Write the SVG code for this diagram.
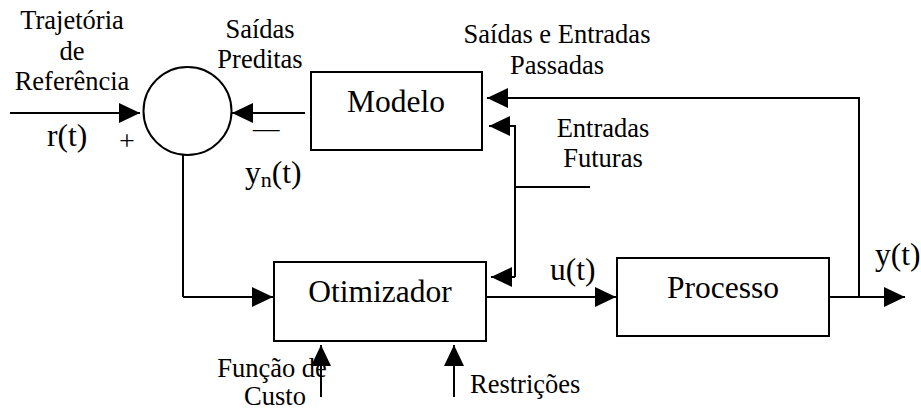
<svg xmlns="http://www.w3.org/2000/svg" width="921" height="410" viewBox="0 0 921 410">
<defs>
<style>
.box{fill:#fff;stroke:#000;stroke-width:2}
.ln{fill:none;stroke:#000;stroke-width:2}
.arr{fill:none;stroke:#000;stroke-width:2;marker-end:url(#ah)}
text{font-family:'Liberation Serif','Times New Roman',Times,Tinos,'DejaVu Serif',serif;fill:#000}
.big{font-size:31.5px}
.lbl{font-size:26.5px}
</style>
<marker id="ah" markerUnits="userSpaceOnUse" markerWidth="22" markerHeight="20" refX="21" refY="10" orient="auto">
<path d="M0,0 L21,10 L0,20 z" fill="#000"/>
</marker>
</defs>
<rect width="921" height="410" fill="#fff"/>
<g id="connectors">
<line class="arr" x1="10" y1="113" x2="140" y2="113"/>
<line class="arr" x1="305" y1="113" x2="232" y2="113"/>
<polyline class="ln" points="183,154 183,297"/>
<line class="arr" x1="183" y1="297" x2="273" y2="297"/>
<line class="arr" x1="486" y1="297" x2="616" y2="297"/>
<line class="arr" x1="830" y1="297" x2="905" y2="297"/>
<polyline class="arr" points="859,297 859,98 487,98"/>
<polyline class="arr" points="515,277 515,126 489,126"/>
<line class="arr" x1="515" y1="277" x2="491" y2="277"/>
<line class="ln" x1="515" y1="187" x2="590" y2="187"/>
<line class="arr" x1="321" y1="397" x2="321" y2="345"/>
<line class="arr" x1="454" y1="397" x2="454" y2="345"/>
</g>
<g id="somador">
<circle cx="187.5" cy="111" r="44" fill="#fff" stroke="#000" stroke-width="2"/>
</g>
<g id="modelo">
<rect class="box" x="311" y="72" width="171" height="78"/>
<text class="big" x="396" y="112" text-anchor="middle">Modelo</text>
</g>
<g id="otimizador">
<rect class="box" x="274" y="262" width="212" height="79"/>
<text class="big" x="380" y="302" text-anchor="middle">Otimizador</text>
</g>
<g id="processo">
<rect class="box" x="617" y="258" width="212" height="78"/>
<text class="big" x="723" y="298" text-anchor="middle">Processo</text>
</g>
<g id="labels">
<text class="lbl" x="72" y="29" text-anchor="middle">Trajetória</text>
<text class="lbl" x="72" y="60" text-anchor="middle">de</text>
<text class="lbl" x="72" y="90" text-anchor="middle">Referência</text>
<text class="big" x="47" y="146">r(t)</text>
<text x="119" y="150" style="font-size:28px">+</text>
<text class="lbl" x="260" y="38" text-anchor="middle">Saídas</text>
<text class="lbl" x="260" y="68" text-anchor="middle">Preditas</text>
<text class="lbl" x="253" y="137">—</text>
<text class="big" x="245" y="183">y<tspan style="font-size:22px" dy="4">n</tspan><tspan dy="-4">(t)</tspan></text>
<text class="lbl" x="557" y="43" text-anchor="middle">Saídas e Entradas</text>
<text class="lbl" x="557" y="74" text-anchor="middle">Passadas</text>
<text class="lbl" x="603" y="137" text-anchor="middle">Entradas</text>
<text class="lbl" x="603" y="167" text-anchor="middle">Futuras</text>
<text class="big" x="550" y="280">u(t)</text>
<text class="big" x="875" y="265">y(t)</text>
<text class="lbl" x="272" y="377" text-anchor="middle">Função de</text>
<text class="lbl" x="275" y="405" text-anchor="middle">Custo</text>
<text class="lbl" x="470" y="393">Restrições</text>
</g>
</svg>
